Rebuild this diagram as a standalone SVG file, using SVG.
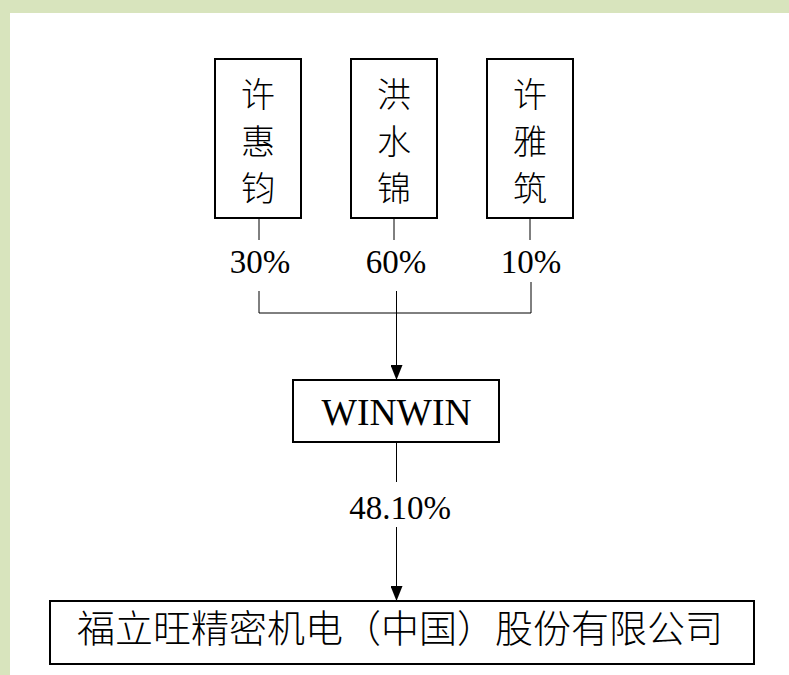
<svg xmlns="http://www.w3.org/2000/svg" width="789" height="675" viewBox="0 0 789 675">
  <defs>
    <style>
      .box { fill: #ffffff; stroke: #000000; stroke-width: 2; }
      .ln { stroke: #000000; stroke-width: 1; fill: none; }
      .cjk { font-family: "Liberation Serif", "Noto Sans CJK SC", serif; font-size: 34px; font-weight: 300; fill: #000; text-anchor: middle; }
      .pct { font-family: "Liberation Serif", serif; font-size: 33px; fill: #000; text-anchor: middle; }
      .big { font-family: "Liberation Serif", serif; font-size: 37.5px; fill: #000; text-anchor: middle; }
      .co { font-family: "Liberation Serif", "Noto Sans CJK SC", serif; font-size: 38px; font-weight: 300; fill: #000; text-anchor: middle; }
    </style>
    <marker id="arr" viewBox="0 0 15 12" refX="15" refY="6" markerWidth="15" markerHeight="12" markerUnits="userSpaceOnUse" orient="auto">
      <path d="M0,0 L15,6 L0,12 Z" fill="#000"/>
    </marker>
  </defs>
  <rect x="0" y="0" width="789" height="675" fill="#d8e4bd"/>
  <rect x="10" y="13" width="779" height="662" fill="#ffffff"/>

  <g id="connectors">
    <line class="ln" x1="259" y1="218" x2="259" y2="240"/>
    <line class="ln" x1="394" y1="218" x2="394" y2="240"/>
    <line class="ln" x1="530" y1="218" x2="530" y2="240"/>
    <polyline class="ln" points="259,291 259,313 531,313 531,282"/>
    <line class="ln" x1="396.5" y1="291" x2="396.5" y2="380" marker-end="url(#arr)"/>
    <line class="ln" x1="396.5" y1="442" x2="396.5" y2="482"/>
    <line class="ln" x1="396.5" y1="527" x2="396.5" y2="601" marker-end="url(#arr)"/>
    <text class="pct" x="260" y="273">30%</text>
    <text class="pct" x="396" y="273">60%</text>
    <text class="pct" x="531" y="273">10%</text>
    <text class="pct" x="400" y="519">48.10%</text>
  </g>

  <g id="node-xuhuijun">
    <rect class="box" x="215" y="59" width="86" height="159"/>
    <text class="cjk" x="258" y="107">许</text>
    <text class="cjk" x="258" y="154">惠</text>
    <text class="cjk" x="258" y="201">钧</text>
  </g>
  <g id="node-hongshuijin">
    <rect class="box" x="351" y="59" width="86" height="159"/>
    <text class="cjk" x="394" y="107">洪</text>
    <text class="cjk" x="394" y="154">水</text>
    <text class="cjk" x="394" y="201">锦</text>
  </g>
  <g id="node-xuyazhu">
    <rect class="box" x="487" y="59" width="86" height="159"/>
    <text class="cjk" x="530" y="107">许</text>
    <text class="cjk" x="530" y="154">雅</text>
    <text class="cjk" x="530" y="201">筑</text>
  </g>
  <g id="node-winwin">
    <rect class="box" x="293" y="380" width="206" height="62"/>
    <text class="big" x="396.5" y="425">WINWIN</text>
  </g>
  <g id="node-fulingwang">
    <rect class="box" x="50" y="601" width="704" height="63"/>
    <text class="co" x="400" y="642">福立旺精密机电（中国）股份有限公司</text>
  </g>
</svg>
